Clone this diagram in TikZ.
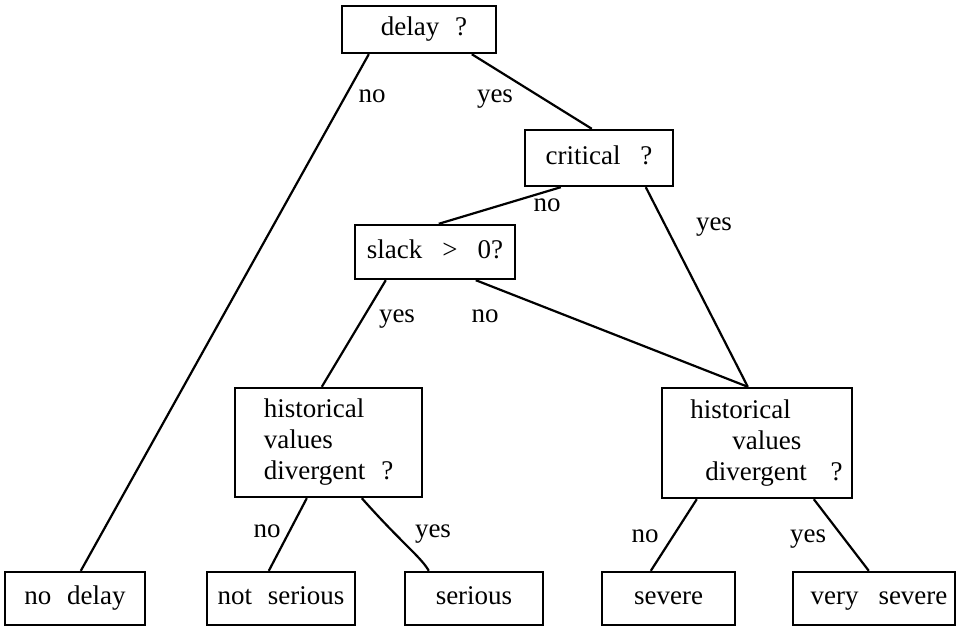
\documentclass[tikz,border=0pt]{standalone}
\usepackage{fontspec}
\setmainfont{Liberation Serif}
\begin{document}
\begin{tikzpicture}[x=1pt,y=-1pt,
  box/.style={draw, line width=2.4pt, inner sep=0pt, align=center,
    font=\fontsize{27}{31}\selectfont},
  onebox/.style={box, text height=17pt, text depth=5pt},
  link/.style={line width=2.2pt},
  lbl/.style={inner sep=0pt, anchor=base, font=\fontsize{27}{31}\selectfont}]
\useasboundingbox (0,0) rectangle (959,630);

% decision boxes
\node[onebox, minimum width=154pt, minimum height=47pt] (delay) at (419,29.5)
  {\hspace*{10pt}delay\hspace{16pt}?};
\node[onebox, minimum width=148pt, minimum height=56pt] (crit) at (599,158)
  {critical\hspace{20pt}?};
\node[onebox, minimum width=160pt, minimum height=54pt] (slack) at (435,252)
  {slack\hspace{20pt}>\hspace{20pt}0?};
\node[box, align=left, minimum width=187pt, minimum height=109pt] (hist1) at (328.5,442.5)
  {historical\\values\\divergent\hspace{16pt}?};
\node[box, align=left, minimum width=190pt, minimum height=110pt] (hist2) at (757,443)
  {\hspace*{19pt}historical\\\hspace*{61pt}values\\\hspace*{34pt}divergent\hspace{24pt}?};

% outcome boxes
\node[onebox, minimum width=140pt, minimum height=53pt] (nodelay) at (75,598.5)
  {no\hspace{16pt}delay};
\node[onebox, minimum width=148pt, minimum height=53pt] (notser) at (281,598.5)
  {not\hspace{16pt}serious};
\node[onebox, minimum width=138pt, minimum height=53pt] (ser) at (474,598.5)
  {serious};
\node[onebox, minimum width=133pt, minimum height=53pt] (sev) at (668.5,598.5)
  {severe};
\node[onebox, minimum width=162pt, minimum height=53pt] (vsev) at (874,598.5)
  {\hspace*{10pt}very\hspace{20pt}severe};

% branches
\draw[link] ([xshift=28pt]delay.south west) -- ([xshift=77pt]nodelay.north west);
\draw[link] ([xshift=131pt]delay.south west) -- ([xshift=68pt]crit.north west);
\draw[link] ([xshift=37pt]crit.south west) -- ([xshift=85pt]slack.north west);
\draw[link] ([xshift=122pt]crit.south west) -- ([xshift=87pt]hist2.north west);
\draw[link] ([xshift=32pt]slack.south west) -- ([xshift=88pt]hist1.north west);
\draw[link] ([xshift=122pt]slack.south west) -- ([xshift=87pt]hist2.north west);
\draw[link] ([xshift=73pt]hist1.south west) -- ([xshift=63pt]notser.north west);
\draw[link] ([xshift=128pt]hist1.south west) .. controls +(40,45) and +(-8,-14) .. ([xshift=25pt]ser.north west);
\draw[link] ([xshift=36pt]hist2.south west) -- ([xshift=50pt]sev.north west);
\draw[link] ([xshift=153pt]hist2.south west) -- ([xshift=77pt]vsev.north west);

% branch labels
\node[lbl] (l1) at (372,102) {no};
\node[lbl] (l2) at (495,102) {yes};
\node[lbl] (l3) at (547,211) {no};
\node[lbl] (l4) at (714,230) {yes};
\node[lbl] (l5) at (397,322) {yes};
\node[lbl] (l6) at (485,322) {no};
\node[lbl] (l7) at (267,537) {no};
\node[lbl] (l8) at (433,537) {yes};
\node[lbl] (l9) at (645,542) {no};
\node[lbl] (l10) at (808,542) {yes};
\end{tikzpicture}
\end{document}
